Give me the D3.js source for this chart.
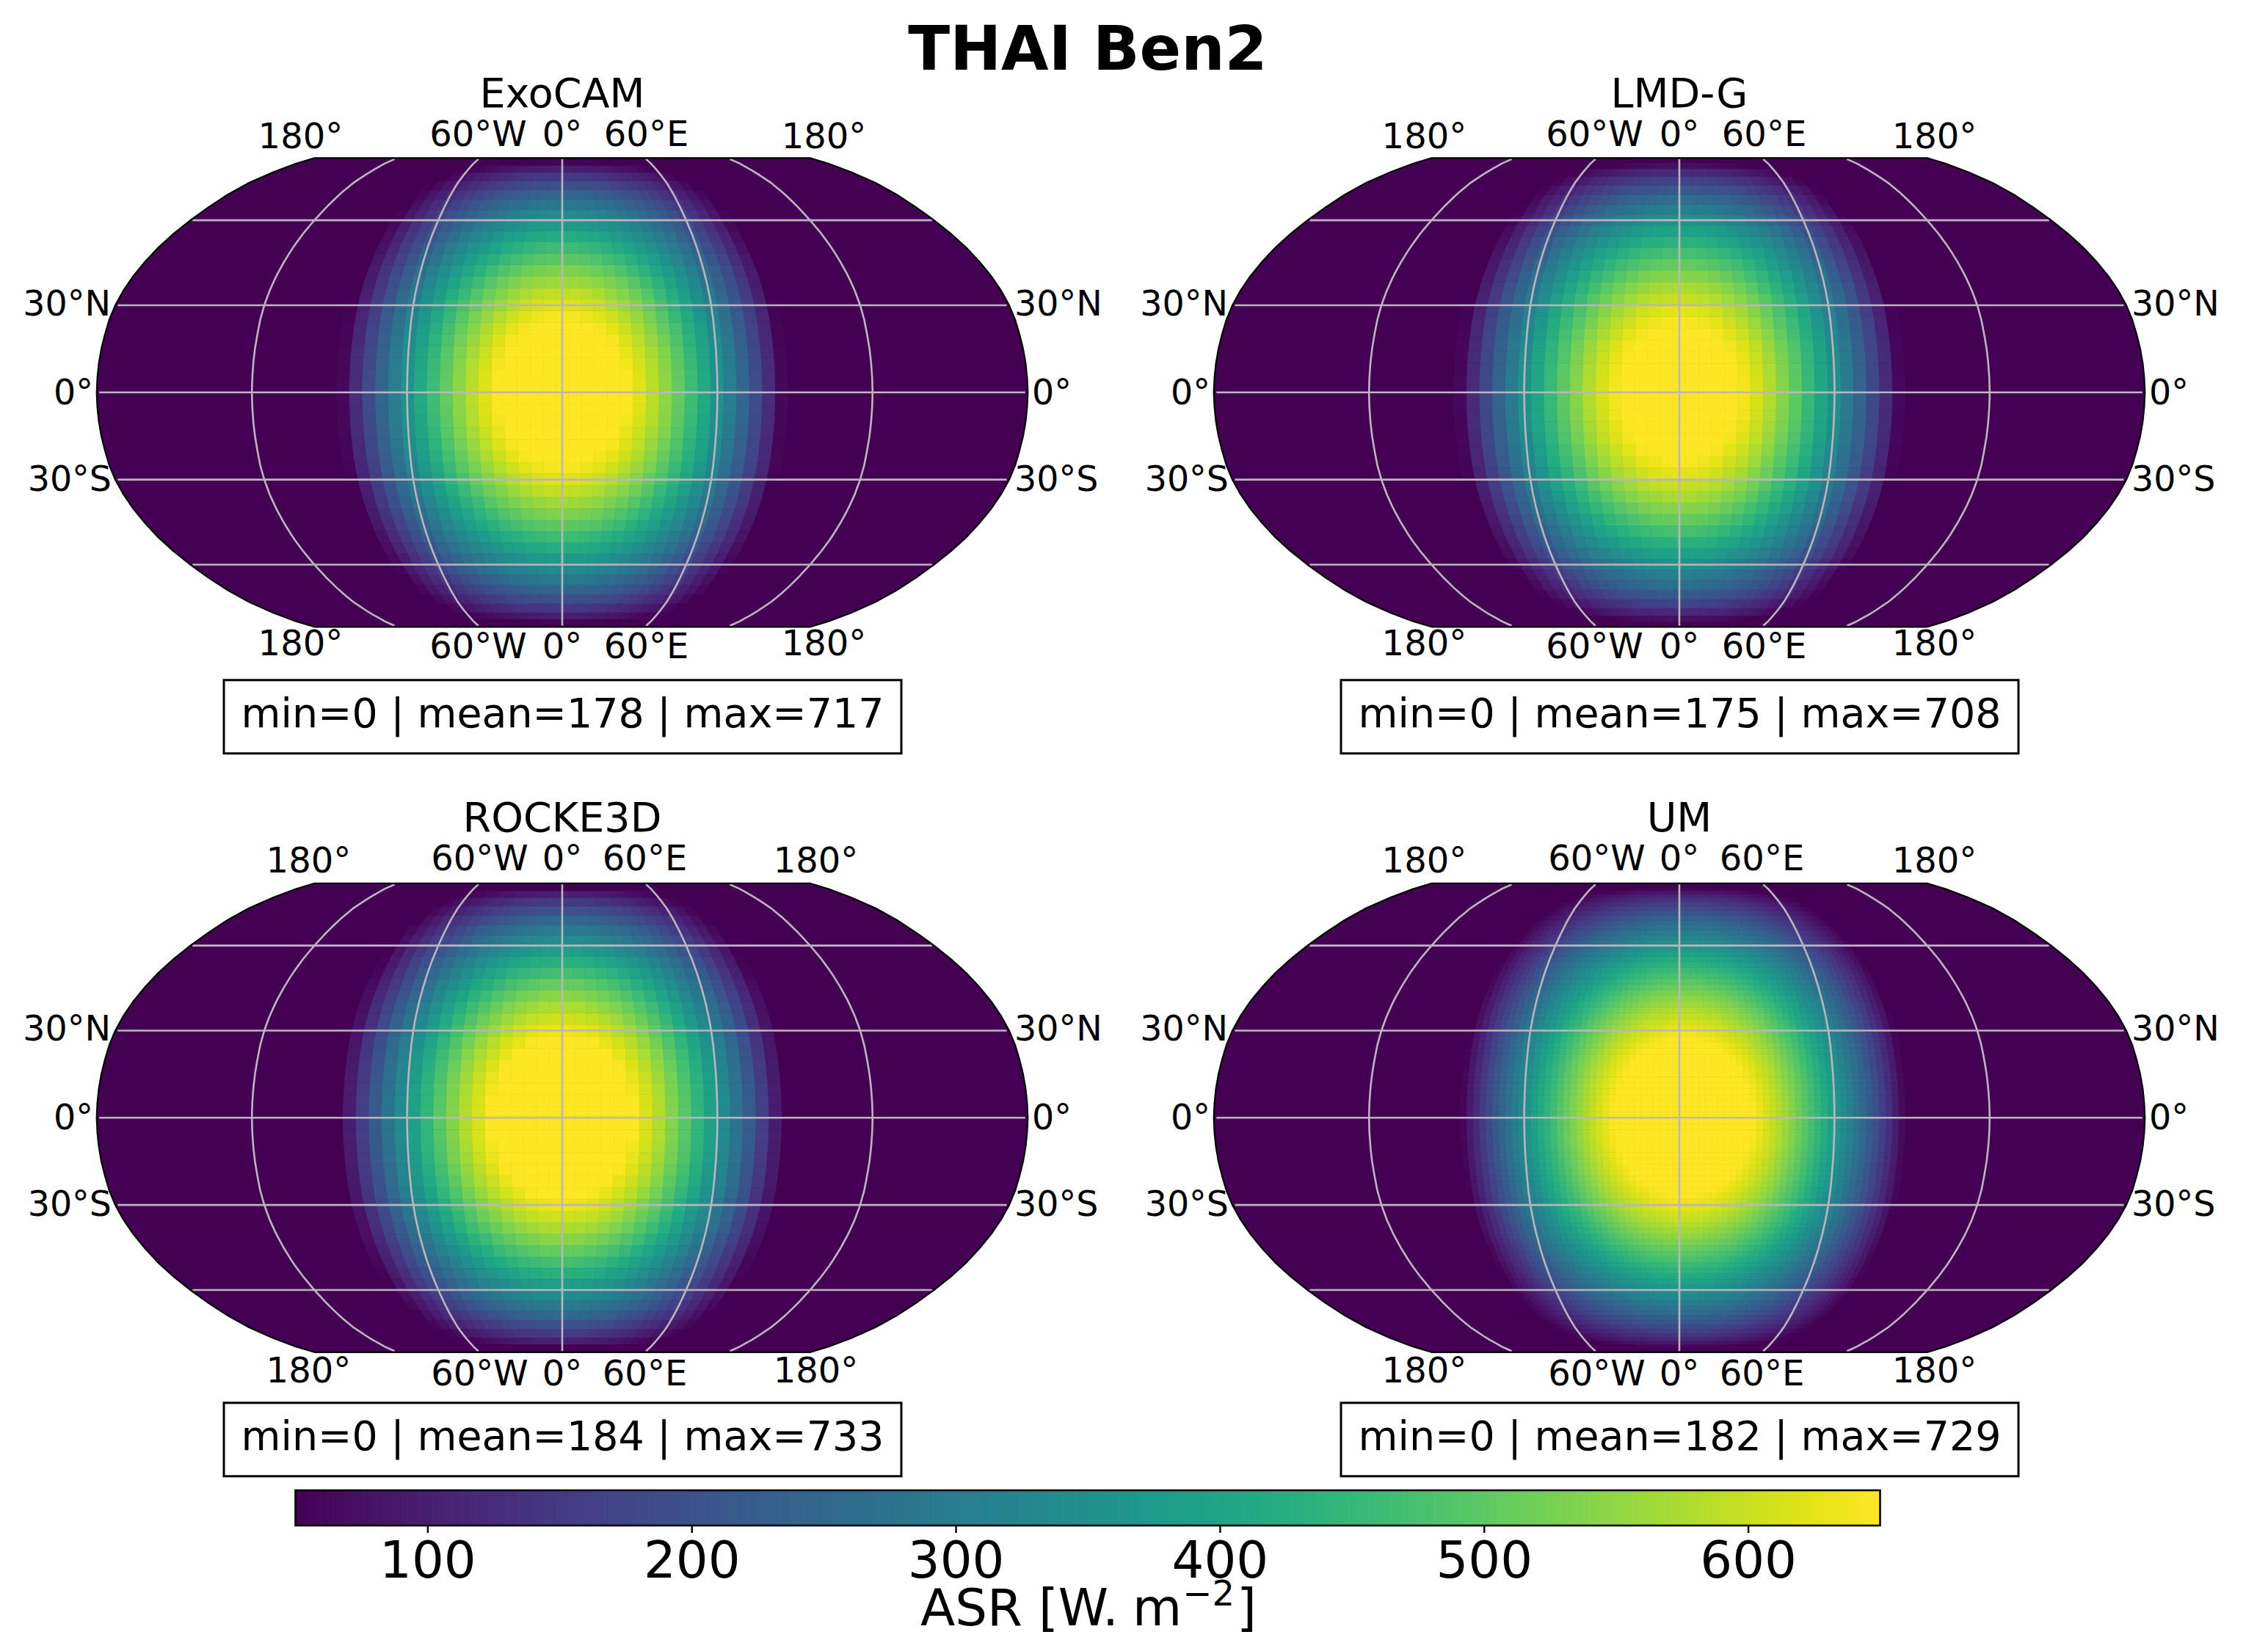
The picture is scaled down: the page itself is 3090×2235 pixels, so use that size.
<!DOCTYPE html>
<html>
<head>
<meta charset="utf-8">
<script src="https://cdn.jsdelivr.net/npm/d3@7/dist/d3.min.js"></script>
<style>
html,body{margin:0;padding:0;background:#fff}
svg{display:block}
text{font-family:"DejaVu Sans";fill:#000}
</style>
</head>
<body>
<svg id="fig" width="3090" height="2235" viewBox="0 0 3090 2235"></svg>
<script>
// ---------- values (ASR, W m-2) ----------
const modelNames = ["ExoCAM", "LMD-G", "ROCKE3D", "UM"];
const statMin = [0, 0, 0, 0];
const statMean = [178, 175, 184, 182];
const statMax = [717, 708, 733, 729];
const colorbarTicks = [100, 200, 300, 400, 500, 600];
const lonLabels = ["180°", "60°W", "0°", "60°E", "180°"];
const latLabels = ["30°N", "0°", "30°S"];

// along the equator, going east then west of the substellar point
const exocamEast = [717,714,706,693,674,650,621,587,549,507,461,412,359,303,245,186,125,62,0];
const exocamWest = [714,706,693,674,650,621,587,549,507,461,412,359,303,245,186,125,62,0];
// along the central meridian, from the equator to the pole
const exocamLat = [717,713,706,696,682,665,644,621,594,565,533,498,461,421,380,337,292,245,198,149,100,58,0];

const lmdEast = [708,705,697,684,665,642,613,580,542,501,455,406,354,299,242,183,123,62,0];
const lmdWest = [705,697,684,665,642,613,580,542,501,455,406,354,299,242,183,123,62,0];
const lmdLat = [708,706,701,693,681,665,647,625,600,573,542,509,474,436,396,354,310,265,219,171,123,74,25];

const rockeEast = [732,727,716,699,677,650,618,582,540,495,446,394,338,281,220,159,96,32];
const rockeWest = [732,727,716,699,677,650,618,582,540,495,446,394,338,281,220,159,96,32];
const rockeLat = [732,729,722,711,697,680,659,635,608,578,545,509,471,431,388,344,298,251,202,152,102,51,0];

const umEast = [729,728,727,723,718,712,705,696,686,675,662,648,633,617,599,580,560,540,518,495,471,446,421,394,367,339,311,282,252,222,192,161,130,98,67,35];
const umWest = [728,726,722,717,711,703,694,684,672,659,645,630,613,595,576,556,535,513,490,466,441,416,389,362,334,305,276,246,216,186,155,123,92,60,29,0];
const umLat = [729,728,726,724,720,716,710,704,697,689,681,671,661,650,638,625,611,597,582,567,550,533,515,497,478,459,439,418,397,375,353,331,308,285,261,237,213,189,164,139,114,89,64,38,13];

// Robinson table, every 5 degrees of latitude
const robLen = [1,.9986,.9954,.99,.9822,.973,.96,.9427,.9216,.8962,.8679,.835,.7986,.7597,.7186,.6732,.6213,.5722,.5322];
const robDrop = [0,.062,.124,.186,.248,.31,.372,.434,.4958,.5571,.6176,.6769,.7346,.7903,.8435,.8936,.9394,.9761,1];

// ---------- layout ----------
const W = 3090, H = 2235;
const halfW = 634.3, halfH = 319.5;
const panels = [
  {east:exocamEast, west:exocamWest, lat:exocamLat, eastStart:0,   westStart:-5,   lonStep:5,   latStart:2, latStep:4, cx:766,  cy:534.8, pole:-19, sixty:2, titleDy:-2, topDy:-4, botDy:-1, boxDy:0},
  {east:lmdEast,    west:lmdWest,    lat:lmdLat,    eastStart:0,   westStart:-5,   lonStep:5,   latStart:0, latStep:4, cx:2288, cy:534.8, pole:-10, sixty:3, titleDy:-2, topDy:-4, botDy:-1, boxDy:0},
  {east:rockeEast,  west:rockeWest,  lat:rockeLat,  eastStart:2.5, westStart:-2.5, lonStep:5,   latStart:2, latStep:4, cx:766,  cy:1523.3,pole:-8,  sixty:0, titleDy:-4, topDy:-5, botDy:2,  boxDy:-3.5},
  {east:umEast,     west:umWest,     lat:umLat,     eastStart:1.25,westStart:-1.25,lonStep:2.5, latStart:1, latStep:2, cx:2288, cy:1523.3,pole:-10, sixty:0, titleDy:-4, topDy:-5, botDy:2,  boxDy:-3.5}
];

const svg = d3.select("#fig");
svg.append("rect").attr("width", W).attr("height", H).attr("fill", "#fff");

const lookup = d3.scaleLinear().domain(d3.range(0, 95, 5));
const lenAt = lookup.copy().range(robLen);
const dropAt = lookup.copy().range(robDrop);
const robinsonRaw = (lam, phi) => {
  const a = Math.abs(phi) * 180 / Math.PI;
  return [lam / Math.PI * lenAt(a) * halfW / halfH, Math.sign(phi) * dropAt(a)];
};

const vmin = 50, vmax = 650;
const colour = d3.scaleSequential(d3.interpolateViridis).domain([vmin, vmax]).clamp(true);
const line = d3.line();
const latSamples = d3.range(-90, 90.01, 5);

panels.forEach((p, i) => {
  const proj = d3.geoProjection(robinsonRaw).scale(halfH).translate([p.cx, p.cy]).precision(0.1);
  const g = svg.append("g");
  const title = modelNames[i];

  const outlinePts = [
    ...latSamples.map(la => proj([-180, la])),
    ...latSamples.slice().reverse().map(la => proj([180, la]))
  ];
  const outline = line(outlinePts) + "Z";
  g.append("path").attr("d", outline).attr("fill", "#440154");

  // cells
  const lons = [
    ...p.east.map((v, k) => ({c: p.eastStart + k * p.lonStep, v})),
    ...p.west.map((v, k) => ({c: p.westStart - k * p.lonStep, v}))
  ];
  const rows = [];
  p.lat.forEach((v, k) => {
    const c = p.latStart + k * p.latStep;
    rows.push({c, v});
    if (c !== 0) rows.push({c: -c, v});
  });
  const cells = [];
  lons.forEach(lo => rows.forEach(la => {
    cells.push({lo: lo.c, la: la.c, value: lo.v * la.v / statMax[i]});
  }));
  g.append("g").selectAll("path").data(cells).join("path")
    .attr("d", d => {
      const w0 = d.lo - p.lonStep / 2, w1 = d.lo + p.lonStep / 2;
      const s0 = Math.max(-90, d.la - p.latStep / 2), s1 = Math.min(90, d.la + p.latStep / 2);
      return line([proj([w0, s0]), proj([w1, s0]), proj([w1, s1]), proj([w0, s1])]) + "Z";
    })
    .attr("fill", d => colour(d.value))
    .attr("stroke", d => colour(d.value))
    .attr("stroke-width", 0.7);

  // grid
  const grid = g.append("g").attr("fill", "none").attr("stroke", "#bdb5bd").attr("stroke-width", 2.6);
  [-120, -60, 0, 60, 120].forEach(lon => {
    grid.append("path").attr("d", line(d3.range(-89, 89.01, 2).map(la => proj([lon, la]))));
  });
  [-60, -30, 0, 30, 60].forEach(lat => {
    grid.append("path").attr("d", line([proj([-179, lat]), proj([179, lat])]));
  });

  g.append("path").attr("d", outline).attr("fill", "none").attr("stroke", "#000").attr("stroke-width", 2.2);

  // titles
  g.append("text").attr("x", p.cx).attr("y", p.cy - 386.5 + p.titleDy).attr("text-anchor", "middle")
    .attr("font-size", 55.6).text(title);

  // longitude labels, top and bottom
  const lonTicks = [-180, -60, 0, 60, 180];
  lonTicks.forEach((lon, k) => {
    let x = proj([lon, 90])[0];
    if (Math.abs(lon) === 180) x += Math.sign(lon) * -p.pole;
    if (Math.abs(lon) === 60) x += Math.sign(lon) * p.sixty;
    const edge = Math.abs(lon) === 180;
    g.append("text").attr("x", x).attr("y", p.cy - (edge ? 329 : 332) + p.topDy).attr("text-anchor", "middle")
      .attr("font-size", 48).text(lonLabels[k]);
    g.append("text").attr("x", x).attr("y", p.cy + (edge ? 359 : 363) + p.botDy).attr("text-anchor", "middle")
      .attr("font-size", 48).text(lonLabels[k]);
  });

  // latitude labels, left and right
  [[30, 615, latLabels[0], 14], [0, 639, latLabels[1], 16], [-30, 614, latLabels[2], 15]].forEach(([lat, off, label, dy]) => {
    const y = proj([0, lat])[1] + dy;
    g.append("text").attr("x", p.cx - off).attr("y", y).attr("text-anchor", "end")
      .attr("font-size", 47.5).text(label);
    g.append("text").attr("x", p.cx + (lat === 0 ? 640 : 616)).attr("y", y).attr("text-anchor", "start")
      .attr("font-size", 47.5).text(label);
  });

  // stats box
  const boxTop = p.cy + 392 + p.boxDy;
  g.append("rect").attr("x", p.cx - 461).attr("y", boxTop).attr("width", 923).attr("height", 100)
    .attr("fill", "#fff").attr("stroke", "#000").attr("stroke-width", 3);
  g.append("text").attr("x", p.cx + 0.5).attr("y", boxTop + 64).attr("text-anchor", "middle")
    .attr("font-size", 55.4).text(`min=${statMin[i]} | mean=${statMean[i]} | max=${statMax[i]}`);
});

// figure title
svg.append("text").attr("x", 1482).attr("y", 95).attr("text-anchor", "middle")
  .attr("font-size", 83.5).attr("font-weight", "bold").text("THAI Ben2");

// colour bar
const barX = d3.scaleLinear().domain([vmin, vmax]).range([402.5, 2561.5]);
const barTop = 2031, barH = 48;
const levels = d3.range(vmin, vmax, 600 / 256);
svg.append("g").selectAll("rect").data(levels).join("rect")
  .attr("x", d => barX(d)).attr("y", barTop)
  .attr("width", (barX(vmax) - barX(vmin)) / 256 + 0.6).attr("height", barH)
  .attr("fill", d => colour(d));
svg.append("rect").attr("x", barX(vmin)).attr("y", barTop).attr("width", barX(vmax) - barX(vmin)).attr("height", barH)
  .attr("fill", "none").attr("stroke", "#000").attr("stroke-width", 2.6);
const axis = d3.axisBottom(barX).tickValues(colorbarTicks).tickSize(10).tickPadding(12).tickFormat(d3.format("d"));
const ag = svg.append("g").attr("transform", `translate(0,${barTop + barH})`).call(axis);
ag.select(".domain").remove();
ag.selectAll("line").attr("stroke", "#000").attr("stroke-width", 2.4);
ag.selectAll("text").attr("font-size", 69).attr("font-family", "DejaVu Sans").attr("fill", "#000");

// colour bar label
const label = svg.append("text").attr("x", 1254).attr("y", 2215).attr("font-size", 69);
label.append("tspan").text("ASR [W.");
label.append("tspan").attr("dx", 19).text("m");
label.append("tspan").attr("dx", 1).attr("dy", -27).attr("font-size", 48).text("−2");
label.append("tspan").attr("dx", 3).attr("dy", 27).text("]");
</script>
</body>
</html>
